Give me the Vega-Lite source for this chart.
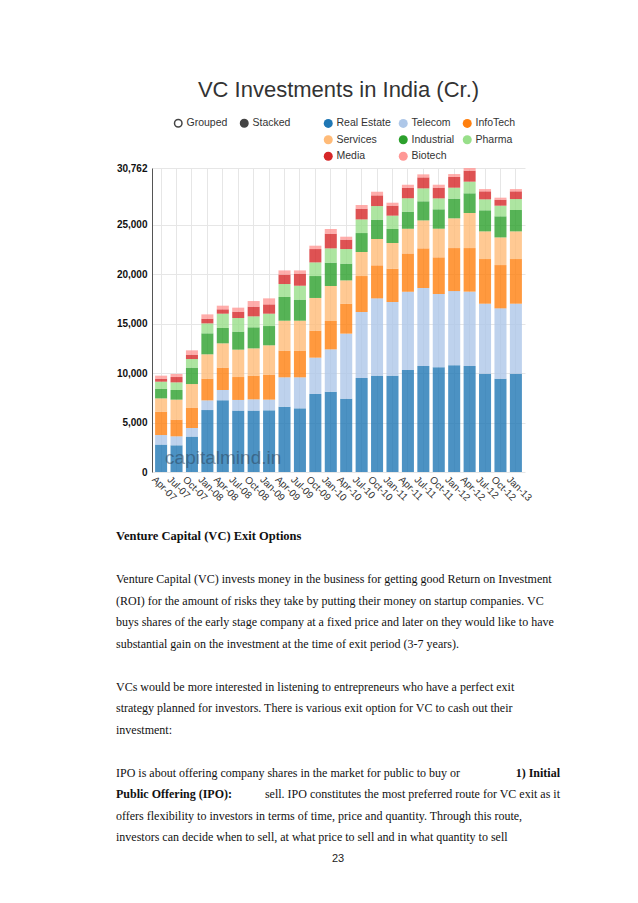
{
  "$schema": "https://vega.github.io/schema/vega-lite/v6.json",
  "background": "white",
  "padding": {"left": 116, "top": 79, "right": 78, "bottom": 40},
  "spacing": 27,
  "datasets": {
    "vc": [
      {"period": "Apr-07", "Real Estate": 2770, "Telecom": 970, "InfoTech": 2360, "Services": 1350, "Industrial": 980, "Pharma": 710, "Media": 300, "Biotech": 310},
      {"period": "Jul-07", "Real Estate": 2700, "Telecom": 910, "InfoTech": 1690, "Services": 2020, "Industrial": 980, "Pharma": 770, "Media": 540, "Biotech": 310},
      {"period": "Oct-07", "Real Estate": 3580, "Telecom": 870, "InfoTech": 2030, "Services": 2420, "Industrial": 1660, "Pharma": 870, "Media": 440, "Biotech": 440},
      {"period": "Jan-08", "Real Estate": 6270, "Telecom": 980, "InfoTech": 2190, "Services": 2470, "Industrial": 2120, "Pharma": 1010, "Media": 470, "Biotech": 440},
      {"period": "Apr-08", "Real Estate": 7250, "Telecom": 1050, "InfoTech": 2260, "Services": 2460, "Industrial": 1550, "Pharma": 1450, "Media": 440, "Biotech": 370},
      {"period": "Jul-08", "Real Estate": 6210, "Telecom": 1080, "InfoTech": 2320, "Services": 2770, "Industrial": 1820, "Pharma": 1380, "Media": 640, "Biotech": 410},
      {"period": "Oct-08", "Real Estate": 6210, "Telecom": 1140, "InfoTech": 2400, "Services": 2760, "Industrial": 2130, "Pharma": 1110, "Media": 980, "Biotech": 570},
      {"period": "Jan-09", "Real Estate": 6240, "Telecom": 1080, "InfoTech": 2530, "Services": 2970, "Industrial": 1950, "Pharma": 1250, "Media": 940, "Biotech": 610},
      {"period": "Apr-09", "Real Estate": 6610, "Telecom": 2970, "InfoTech": 2700, "Services": 3030, "Industrial": 2400, "Pharma": 1310, "Media": 950, "Biotech": 430},
      {"period": "Jul-09", "Real Estate": 6440, "Telecom": 3140, "InfoTech": 2700, "Services": 3030, "Industrial": 2130, "Pharma": 1410, "Media": 1220, "Biotech": 330},
      {"period": "Oct-09", "Real Estate": 7890, "Telecom": 3680, "InfoTech": 2730, "Services": 3310, "Industrial": 2220, "Pharma": 1380, "Media": 1350, "Biotech": 340},
      {"period": "Jan-10", "Real Estate": 8130, "Telecom": 4280, "InfoTech": 2870, "Services": 3540, "Industrial": 2360, "Pharma": 1450, "Media": 1480, "Biotech": 480},
      {"period": "Apr-10", "Real Estate": 7420, "Telecom": 6580, "InfoTech": 3030, "Services": 2360, "Industrial": 1690, "Pharma": 1480, "Media": 950, "Biotech": 300},
      {"period": "Jul-10", "Real Estate": 9510, "Telecom": 6680, "InfoTech": 3640, "Services": 2430, "Industrial": 1920, "Pharma": 1380, "Media": 1080, "Biotech": 380},
      {"period": "Oct-10", "Real Estate": 9750, "Telecom": 7820, "InfoTech": 3340, "Services": 2670, "Industrial": 1950, "Pharma": 1380, "Media": 1080, "Biotech": 370},
      {"period": "Jan-11", "Real Estate": 9750, "Telecom": 7450, "InfoTech": 3370, "Services": 2600, "Industrial": 1420, "Pharma": 1350, "Media": 1010, "Biotech": 300},
      {"period": "Apr-11", "Real Estate": 10320, "Telecom": 7930, "InfoTech": 3870, "Services": 2500, "Industrial": 1720, "Pharma": 1350, "Media": 1080, "Biotech": 300},
      {"period": "Jul-11", "Real Estate": 10730, "Telecom": 7890, "InfoTech": 4010, "Services": 2830, "Industrial": 1930, "Pharma": 1310, "Media": 1110, "Biotech": 310},
      {"period": "Oct-11", "Real Estate": 10590, "Telecom": 7420, "InfoTech": 3710, "Services": 2900, "Industrial": 1960, "Pharma": 1110, "Media": 1080, "Biotech": 300},
      {"period": "Jan-12", "Real Estate": 10790, "Telecom": 7520, "InfoTech": 4350, "Services": 3010, "Industrial": 1990, "Pharma": 1110, "Media": 1080, "Biotech": 300},
      {"period": "Apr-12", "Real Estate": 10730, "Telecom": 7520, "InfoTech": 4410, "Services": 3550, "Industrial": 1990, "Pharma": 1180, "Media": 1110, "Biotech": 272},
      {"period": "Jul-12", "Real Estate": 9950, "Telecom": 7080, "InfoTech": 4520, "Services": 2800, "Industrial": 2130, "Pharma": 1110, "Media": 810, "Biotech": 230},
      {"period": "Oct-12", "Real Estate": 9440, "Telecom": 7120, "InfoTech": 4380, "Services": 2800, "Industrial": 2130, "Pharma": 1080, "Media": 600, "Biotech": 210},
      {"period": "Jan-13", "Real Estate": 9950, "Telecom": 7080, "InfoTech": 4520, "Services": 2800, "Industrial": 2160, "Pharma": 1110, "Media": 780, "Biotech": 230}
    ],
    "page": [
      {"line": 0, "part": "heading", "text": "Venture Capital (VC) Exit Options"},
      {"line": 2, "part": "body", "text": "Venture Capital (VC) invests money in the business for getting good Return on Investment"},
      {"line": 3, "part": "body", "text": "(ROI) for the amount of risks they take by putting their money on startup companies. VC"},
      {"line": 4, "part": "body", "text": "buys shares of the early stage company at a fixed price and later on they would like to have"},
      {"line": 5, "part": "body", "text": "substantial gain on the investment at the time of exit period (3-7 years)."},
      {"line": 7, "part": "body", "text": "VCs would be more interested in listening to entrepreneurs who have a perfect exit"},
      {"line": 8, "part": "body", "text": "strategy planned for investors. There is various exit option for VC to cash out their"},
      {"line": 9, "part": "body", "text": "investment:"},
      {"line": 11, "part": "body", "text": "IPO is about offering company shares in the market for public to buy or"},
      {"line": 11, "part": "boldend", "text": "1) Initial"},
      {"line": 12, "part": "boldstart", "text": "Public Offering (IPO):"},
      {"line": 12, "part": "end", "text": "sell. IPO constitutes the most preferred route for VC exit as it"},
      {"line": 13, "part": "body", "text": "offers flexibility to investors in terms of time, price and quantity. Through this route,"},
      {"line": 14, "part": "body", "text": "investors can decide when to sell, at what price to sell and in what quantity to sell"},
      {"line": 15, "part": "page", "text": "23"}
    ]
  },
  "vconcat": [
    {
      "title": {"text": "VC Investments in India (Cr.)", "fontSize": 22, "font": "Liberation Sans", "fontWeight": "normal", "color": "#333333", "offset": 61},
      "width": 373,
      "height": 304,
      "layer": [
        {
          "data": {"name": "vc"},
          "transform": [
            {"fold": ["Real Estate", "Telecom", "InfoTech", "Services", "Industrial", "Pharma", "Media", "Biotech"], "as": ["sector", "value"]},
            {"window": [{"op": "row_number", "as": "rank"}], "groupby": ["period"]}
          ],
          "mark": {"type": "bar", "fillOpacity": 0.8},
          "encoding": {
            "x": {
              "field": "period", "type": "ordinal",
              "scale": {"domain": ["Apr-07","Jul-07","Oct-07","Jan-08","Apr-08","Jul-08","Oct-08","Jan-09","Apr-09","Jul-09","Oct-09","Jan-10","Apr-10","Jul-10","Oct-10","Jan-11","Apr-11","Jul-11","Oct-11","Jan-12","Apr-12","Jul-12","Oct-12","Jan-13"], "paddingInner": 0.22, "paddingOuter": 0.2},
              "axis": {"title": null, "labelAngle": 45, "labelAlign": "left", "labelBaseline": "top", "labelFontSize": 10, "labelFont": "Liberation Sans", "labelColor": "#333333", "labelPadding": 2, "labelOffset": -4, "ticks": false, "domain": false, "grid": true, "gridColor": "#e6e6e6", "bandPosition": 0.5}
            },
            "y": {
              "field": "value", "type": "quantitative", "stack": "zero",
              "scale": {"domain": [0, 30762], "nice": false},
              "axis": {"title": null, "values": [0, 5000, 10000, 15000, 20000, 25000, 30762], "format": ",.0f", "labelFontSize": 10, "labelFont": "Liberation Sans", "labelFontWeight": "bold", "labelColor": "#111111", "labelPadding": 5, "ticks": false, "domain": true, "domainColor": "#555555", "gridColor": "#e6e6e6"}
            },
            "color": {
              "field": "sector", "type": "nominal",
              "scale": {"domain": ["Real Estate", "Telecom", "InfoTech", "Services", "Industrial", "Pharma", "Media", "Biotech"], "range": ["#1f77b4", "#aec7e8", "#ff7f0e", "#ffbb78", "#2ca02c", "#98df8a", "#d62728", "#ff9896"]},
              "legend": {"orient": "none", "legendX": 171, "legendY": -50, "direction": "horizontal", "columns": 3, "symbolType": "circle", "symbolSize": 81, "symbolStrokeWidth": 0, "symbolOpacity": 1, "labelFontSize": 10.5, "labelFont": "Liberation Sans", "labelColor": "#333333", "labelOffset": 3, "columnPadding": 7, "rowPadding": 5.5, "title": null, "padding": 0}
            },
            "order": {"field": "rank", "type": "quantitative"}
          }
        },
        {
          "data": {"values": [{"mark": "capitalmind.in"}]},
          "mark": {"type": "text", "align": "left", "baseline": "middle", "fontSize": 19, "font": "Liberation Sans", "color": "#2b3f55", "opacity": 0.5, "dx": 4},
          "encoding": {
            "x": {"datum": "Apr-07"},
            "y": {"datum": 1400},
            "text": {"field": "mark"}
          }
        },
        {
          "data": {"values": [{"mode": "Grouped"}, {"mode": "Stacked"}]},
          "mark": {"type": "point", "filled": true, "size": 0},
          "encoding": {
            "fill": {
              "field": "mode", "type": "nominal",
              "scale": {"domain": ["Grouped", "Stacked"], "range": ["#ffffff", "#444444"]},
              "legend": {"orient": "none", "legendX": 21, "legendY": -50, "direction": "horizontal", "columns": 2, "symbolType": "circle", "symbolSize": 56, "symbolStrokeColor": "#444444", "symbolStrokeWidth": 1.5, "symbolOpacity": 1, "labelFontSize": 10.5, "labelFont": "Liberation Sans", "labelColor": "#333333", "labelOffset": 3, "columnPadding": 9, "title": null, "padding": 0}
            }
          }
        }
      ]
    },
    {
      "width": 444,
      "height": 322.5,
      "data": {"name": "page"},
      "encoding": {
        "y": {"field": "line", "type": "quantitative", "scale": {"domain": [0, 15], "reverse": true, "nice": false, "zero": false}, "axis": null}
      },
      "layer": [
        {
          "transform": [{"filter": "datum.part === 'heading'"}],
          "mark": {"type": "text", "align": "left", "baseline": "middle", "font": "Liberation Serif", "fontSize": 12.5, "fontWeight": "bold", "color": "#111111", "dx": -36},
          "encoding": {"x": {"datum": 0, "type": "quantitative", "scale": {"domain": [0, 1], "nice": false}, "axis": null}, "text": {"field": "text"}}
        },
        {
          "transform": [{"filter": "datum.part === 'body'"}],
          "mark": {"type": "text", "align": "left", "baseline": "middle", "font": "Liberation Serif", "fontSize": 12, "color": "#111111", "dx": -36},
          "encoding": {"x": {"datum": 0, "type": "quantitative"}, "text": {"field": "text"}}
        },
        {
          "transform": [{"filter": "datum.part === 'boldstart'"}],
          "mark": {"type": "text", "align": "left", "baseline": "middle", "font": "Liberation Serif", "fontSize": 12, "fontWeight": "bold", "color": "#111111", "dx": -36},
          "encoding": {"x": {"datum": 0, "type": "quantitative"}, "text": {"field": "text"}}
        },
        {
          "transform": [{"filter": "datum.part === 'boldend'"}],
          "mark": {"type": "text", "align": "right", "baseline": "middle", "font": "Liberation Serif", "fontSize": 12, "fontWeight": "bold", "color": "#111111", "dx": -36},
          "encoding": {"x": {"datum": 1, "type": "quantitative"}, "text": {"field": "text"}}
        },
        {
          "transform": [{"filter": "datum.part === 'end'"}],
          "mark": {"type": "text", "align": "right", "baseline": "middle", "font": "Liberation Serif", "fontSize": 12, "color": "#111111", "dx": -36},
          "encoding": {"x": {"datum": 1, "type": "quantitative"}, "text": {"field": "text"}}
        },
        {
          "transform": [{"filter": "datum.part === 'page'"}],
          "mark": {"type": "text", "align": "center", "baseline": "middle", "font": "Liberation Sans", "fontSize": 11, "color": "#222222", "dx": -36},
          "encoding": {"x": {"datum": 0.5, "type": "quantitative"}, "text": {"field": "text"}}
        }
      ]
    }
  ],
  "config": {
    "view": {"stroke": null},
    "font": "Liberation Sans"
  }
}
